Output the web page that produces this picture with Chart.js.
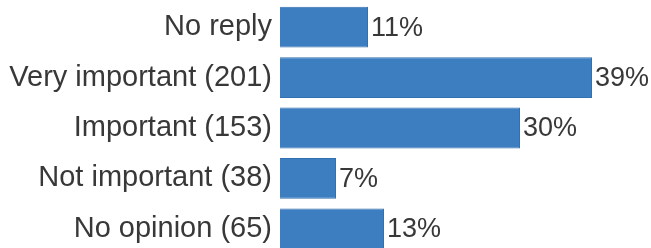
<!DOCTYPE html>
<html>
<head>
<meta charset="utf-8">
<script src="https://cdn.jsdelivr.net/npm/chart.js@4/dist/chart.umd.min.js"></script>
<style>
  html, body { margin: 0; padding: 0; background: #fff; overflow: hidden; }
  #wrap { width: 651px; height: 248px; overflow: hidden; }
</style>
</head>
<body>
<div id="wrap"><canvas id="myChart" width="651" height="256"></canvas></div>
<script>
// Survey answers (count shown in label) and share in percent
const categories = [
  "No reply",
  "Very important (201)",
  "Important (153)",
  "Not important (38)",
  "No opinion (65)",
];
const percentages = [11, 39, 30, 7, 13];

const textColor = "#383838";
const fontFamily = "'Liberation Sans', Arial, sans-serif";

// Draw the "xx%" label right after each bar
const valueLabels = {
  id: "valueLabels",
  afterDatasetsDraw(chart) {
    const ctx = chart.ctx;
    const meta = chart.getDatasetMeta(0);
    ctx.save();
    ctx.font = "27px " + fontFamily;
    ctx.fillStyle = textColor;
    ctx.textAlign = "left";
    ctx.textBaseline = "middle";
    meta.data.forEach((bar, i) => {
      ctx.fillText(percentages[i] + "%", bar.x + 3, bar.y + 1);
    });
    ctx.restore();
  },
};

const ctx = document.getElementById("myChart").getContext("2d");
const chart = new Chart(ctx, {
  type: "bar",
  data: {
    labels: categories,
    datasets: [
      {
        data: percentages,
        backgroundColor: "#3d7ec0",
        borderColor: "#3271b1",
        borderWidth: 1,
        categoryPercentage: 1,
        barPercentage: 0.81,
      },
    ],
  },
  options: {
    indexAxis: "y",
    responsive: false,
    animation: false,
    devicePixelRatio: 1,
    layout: { padding: { top: 2, bottom: 2, right: 11, left: 0 } },
    plugins: {
      legend: { display: false },
      tooltip: { enabled: false },
    },
    scales: {
      x: {
        display: false,
        min: 0,
        max: 45,
      },
      y: {
        grid: { display: false, drawTicks: false },
        border: { display: false },
        ticks: {
          color: textColor,
          padding: 8,
          font: { family: fontFamily, size: 29 },
        },
        afterFit(scale) {
          // fixed label column, no extra room for label overhang
          scale.width = 280;
          scale.paddingTop = 0;
          scale.paddingBottom = 0;
        },
      },
    },
  },
  plugins: [valueLabels],
});
</script>
</body>
</html>
